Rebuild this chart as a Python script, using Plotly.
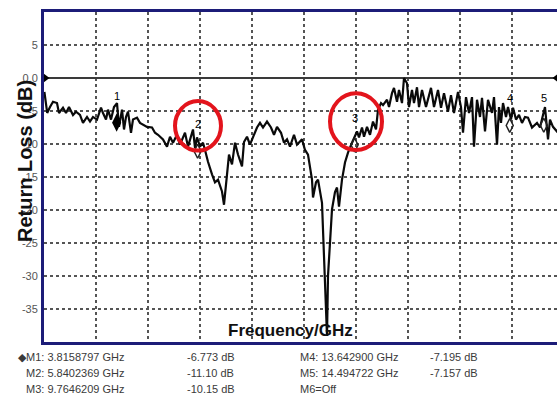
import plotly.graph_objects as go

# ---------------- data ----------------
freq_ghz = [2.01, 2.08, 2.15, 2.225, 2.325, 2.375, 2.475, 2.55, 2.625, 2.725, 2.8, 2.9, 2.975,
            3.075, 3.15, 3.225, 3.325, 3.425, 3.475, 3.55, 3.6, 3.675, 3.75, 3.825, 3.875, 3.95,
            4.0, 4.05, 4.1, 4.175, 4.225, 4.325, 4.4, 4.475, 4.575, 4.7, 4.775, 4.85, 4.975,
            5.075, 5.15, 5.225, 5.325, 5.4, 5.525, 5.6, 5.7, 5.725, 5.775, 5.825, 5.9, 5.975,
            6.025, 6.1, 6.2, 6.275, 6.35, 6.45, 6.5, 6.575, 6.625, 6.7, 6.775, 6.85, 6.95, 7.0,
            7.075, 7.15, 7.225, 7.325, 7.4, 7.475, 7.575, 7.675, 7.75, 7.825, 7.925, 8.0, 8.075,
            8.15, 8.25, 8.325, 8.45, 8.525, 8.6, 8.7, 8.725, 8.8, 8.85, 8.95, 9.0, 9.05, 9.075,
            9.1, 9.15, 9.2, 9.275, 9.325, 9.375, 9.45, 9.525, 9.6, 9.7, 9.775, 9.825, 9.875,
            9.95, 10.0, 10.075, 10.15, 10.225, 10.3, 10.35, 10.425, 10.475, 10.575, 10.625,
            10.7, 10.75, 10.825, 10.875, 10.95, 11.0, 11.075, 11.125, 11.2, 11.25, 11.325,
            11.375, 11.45, 11.55, 11.675, 11.75, 11.85, 11.925, 12.0, 12.1, 12.175, 12.25,
            12.35, 12.425, 12.475, 12.55, 12.625, 12.7, 12.75, 12.825, 12.9, 12.95, 13.025,
            13.1, 13.2, 13.25, 13.325, 13.375, 13.425, 13.475, 13.55, 13.6, 13.675, 13.725,
            13.8, 13.875, 13.95, 14.025, 14.1, 14.2, 14.325, 14.4, 14.475, 14.525, 14.6, 14.65,
            14.725, 14.825, 14.925, 15.0]
return_loss_db = [-2.1, -5.3, -4.4, -3.6, -3.8, -5.3, -4.5, -5.3, -4.4, -5.6, -5.1, -5.6, -6.8,
                  -5.9, -6.6, -5.9, -6.3, -4.5, -5.3, -6.3, -4.8, -6.3, -4.4, -3.8, -7.4, -4.8,
                  -7.8, -5.9, -5.1, -8.3, -6.3, -6.0, -6.8, -7.1, -7.4, -7.5, -8.3, -8.6, -9.3,
                  -10.4, -8.9, -9.8, -8.6, -10.1, -8.3, -10.4, -8.6, -7.8, -10.6, -9.0, -10.4, -9.8,
                  -10.9, -12.7, -14.6, -15.8, -15.4, -17.2, -19.2, -14.2, -11.6, -13.1, -9.8, -11.6,
                  -13.4, -9.7, -8.9, -10.1, -9.0, -7.5, -6.8, -7.5, -6.6, -7.5, -8.6, -7.4, -8.3,
                  -9.8, -9.3, -10.4, -8.6, -10.1, -9.3, -10.9, -11.6, -15.4, -18.1, -15.8, -15.4,
                  -18.9, -27.0, -33.9, -39.1, -30.0, -24.0, -19.9, -17.3, -16.6, -19.5, -15.4,
                  -12.8, -11.3, -9.8, -8.9, -8.1, -9.0, -7.5, -8.9, -7.4, -8.6, -6.6, -7.8, -4.8,
                  -3.8, -4.1, -3.3, -4.4, -2.3, -1.5, -3.6, -1.8, -3.8, 0.0, -0.8, -4.4, -1.8,
                  -3.8, -1.4, -4.4, -1.8, -4.4, -1.5, -4.4, -1.8, -4.5, -2.3, -5.1, -2.6, -5.3,
                  -2.1, -4.4, -8.3, -2.9, -5.3, -2.9, -10.4, -3.3, -5.9, -3.0, -8.1, -3.3, -5.3,
                  -2.9, -10.1, -4.4, -6.8, -3.8, -5.9, -4.4, -6.3, -4.5, -6.3, -5.6, -6.8, -5.9,
                  -6.0, -7.5, -6.8, -7.5, -5.6, -4.4, -9.3, -6.3, -7.4, -8.1, -7.1, -7.8]

marker_ids = [1, 2, 3, 4, 5]
marker_freq_ghz = [3.8158797, 5.8402369, 9.7646209, 13.642900, 14.494722]
marker_db = [-6.773, -11.10, -10.15, -7.195, -7.157]

y_tick_vals = [5, 0, -5, -10, -15, -20, -25, -30, -35]
y_tick_text = ["5", "0.0", "-5", "-10", "-15", "-20", "-25", "-30", "-35"]

x_start, x_end, x_div = 2.0, 14.825, 1.3
y_min, y_max = -40, 10

# highlighted regions (red circles), in data units
circle_regions = [(5.275, 6.425, -11.0, -3.5), (9.15, 10.45, -10.9, -2.3)]

# ---------------- layout constants ----------------
W, H = 557, 407
L, R, T, B = 44, 0, 12, 65
NAVY = "#1c1c78"
FONT = "Liberation Sans, Arial, sans-serif"


def px_x(p):
    return (p - L) / (W - L - R)


def px_y(p):
    return (H - B - p) / (H - T - B)


fig = go.Figure()

fig.add_trace(go.Scatter(x=freq_ghz, y=return_loss_db, mode="lines",
                         line=dict(color="#0a0a0a", width=2.2), hoverinfo="skip",
                         showlegend=False))

# markers
fig.add_trace(go.Scatter(x=marker_freq_ghz[:1], y=marker_db[:1], mode="markers",
                         marker=dict(symbol="diamond-tall", size=13, color="#000000"),
                         showlegend=False, cliponaxis=False, hoverinfo="skip"))
fig.add_trace(go.Scatter(x=marker_freq_ghz[1:], y=marker_db[1:], mode="markers",
                         marker=dict(symbol="diamond-tall-open", size=10, color="#222222",
                                     line=dict(width=1.5)),
                         showlegend=False, cliponaxis=False, hoverinfo="skip"))

# reference level triangles
fig.add_trace(go.Scatter(x=[x_start], y=[0], mode="markers",
                         marker=dict(symbol="triangle-right", size=11, color="#000000"),
                         showlegend=False, cliponaxis=False, hoverinfo="skip"))
fig.add_trace(go.Scatter(x=[x_end], y=[0], mode="markers",
                         marker=dict(symbol="triangle-left", size=9, color="#000000"),
                         showlegend=False, cliponaxis=False, hoverinfo="skip"))

annotations = []
for mid, mf, md in zip(marker_ids, marker_freq_ghz, marker_db):
    annotations.append(dict(x=mf, y=md, xref="x", yref="y", text=str(mid), showarrow=False,
                            xanchor="center", yanchor="middle",
                            yshift=27, font=dict(family=FONT, size=11, color="#000000")))

# axis titles
annotations.append(dict(x=px_x(25), y=px_y(161), xref="paper", yref="paper",
                        xanchor="center", yanchor="middle",
                        text="<b>Return Loss (dB)</b>", textangle=-90, showarrow=False,
                        font=dict(family=FONT, size=20, color="#111111")))
annotations.append(dict(x=px_x(290), y=px_y(330), xref="paper", yref="paper",
                        xanchor="center", yanchor="middle",
                        text="<b>Frequency/GHz</b>", showarrow=False,
                        font=dict(family=FONT, size=17, color="#111111")))

# marker table
table_font = dict(family=FONT, size=11, color="#3a3a3a")
row_y = [357, 373, 389]
left_rows = [0, 1, 2]
right_rows = [3, 4]
for r, i in enumerate(left_rows):
    prefix = "\u25c6" if i == 0 else ""
    x0 = 16 if i == 0 else 24
    annotations.append(dict(x=px_x(x0), y=px_y(row_y[r]), xref="paper", yref="paper",
                            xanchor="left", yanchor="middle", showarrow=False,
                            text=f"{prefix}M{marker_ids[i]}: {marker_freq_ghz[i]:#.8g} GHz",
                            font=table_font))
    annotations.append(dict(x=px_x(185), y=px_y(row_y[r]), xref="paper", yref="paper",
                            xanchor="left", yanchor="middle", showarrow=False,
                            text=f"{marker_db[i]:#.4g} dB", font=table_font))
for r, i in enumerate(right_rows):
    annotations.append(dict(x=px_x(298), y=px_y(row_y[r]), xref="paper", yref="paper",
                            xanchor="left", yanchor="middle", showarrow=False,
                            text=f"M{marker_ids[i]}: {marker_freq_ghz[i]:#.8g} GHz",
                            font=table_font))
    annotations.append(dict(x=px_x(428), y=px_y(row_y[r]), xref="paper", yref="paper",
                            xanchor="left", yanchor="middle", showarrow=False,
                            text=f"{marker_db[i]:#.4g} dB", font=table_font))
annotations.append(dict(x=px_x(298), y=px_y(row_y[2]), xref="paper", yref="paper",
                        xanchor="left", yanchor="middle", showarrow=False,
                        text="M6=Off", font=table_font))

shapes = []
for (cx0, cx1, cy0, cy1) in circle_regions:
    shapes.append(dict(type="circle", xref="x", yref="y", x0=cx0, x1=cx1, y0=cy0, y1=cy1,
                       line=dict(color="#e3141c", width=4)))

fig.update_layout(
    width=W, height=H,
    margin=dict(l=L, r=R, t=T, b=B, pad=0, autoexpand=False),
    paper_bgcolor="white", plot_bgcolor="white",
    showlegend=False,
    hovermode=False,
    annotations=annotations,
    shapes=shapes,
    xaxis=dict(range=[x_start, x_end], tick0=x_start, dtick=x_div, showticklabels=False,
               automargin=False,
               ticks="", showgrid=True, gridcolor="#555555", griddash="dot", gridwidth=1.5,
               zeroline=False, showline=True, linecolor=NAVY, linewidth=3, mirror=True),
    yaxis=dict(range=[y_min, y_max], tickvals=y_tick_vals, ticktext=y_tick_text,
               automargin=False,
               ticks="", showgrid=True, gridcolor="#555555", griddash="dot", gridwidth=1.5,
               zeroline=True, zerolinecolor="#3a3a3a", zerolinewidth=1.5,
               showline=True, linecolor=NAVY, linewidth=3, mirror=False,
               tickfont=dict(family=FONT, size=11, color="#555555"), ticklabelstandoff=1),
)

fig.write_html(
    "out.html",
    config={"displayModeBar": False, "staticPlot": True},
    post_script="document.body.style.margin='0px';document.body.style.overflow='hidden';",
)
